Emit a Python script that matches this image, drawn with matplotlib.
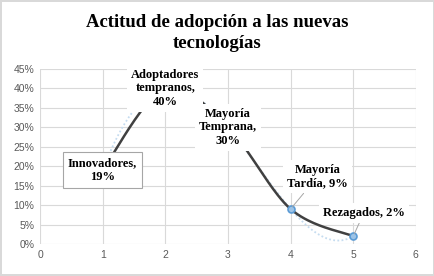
import numpy as np
import matplotlib
matplotlib.use('Agg')
import matplotlib.pyplot as plt
from matplotlib.ticker import PercentFormatter

# Datos del gráfico
etapas = ['Innovadores', 'Adoptadores\ntempranos', 'Mayoría\nTemprana', 'Mayoría\nTardía', 'Rezagados']
x = np.array([1, 2, 3, 4, 5])
y = np.array([19, 40, 30, 9, 2])
etiquetas = ['Innovadores,\n19%', 'Adoptadores\ntempranos,\n40%', 'Mayoría\nTemprana,\n30%',
             'Mayoría\nTardía, 9%', 'Rezagados, 2%']
# desplazamiento de las etiquetas (en unidades de datos)
offsets = [(0, 0), (0, 0), (0, 0), (0.43, 8.3), (0.17, 6)]


# Línea suavizada tipo Excel (Bezier con tangentes Catmull-Rom)
def linea_suave(xs, ys, n=40):
    pts = np.column_stack([xs, ys]).astype(float)
    ext = np.vstack([pts[0], pts, pts[-1]])
    out = []
    for i in range(len(pts) - 1):
        p0, p1, p2, p3 = ext[i], ext[i + 1], ext[i + 2], ext[i + 3]
        c1 = p1 + (p2 - p0) / 6
        c2 = p2 - (p3 - p1) / 6
        t = np.linspace(0, 1, n)[:, None]
        seg = (1 - t) ** 3 * p1 + 3 * (1 - t) ** 2 * t * c1 + 3 * (1 - t) * t ** 2 * c2 + t ** 3 * p2
        out.append(seg)
    out = np.vstack(out)
    return out[:, 0], out[:, 1]


fig = plt.figure(figsize=(4.35, 2.76), dpi=100)
fig.patch.set_edgecolor('#d9d9d9')
fig.patch.set_linewidth(1.5)
ax = fig.add_axes([0.092, 0.116, 0.864, 0.634])

# Línea de tendencia polinómica (orden 4)
coef = np.polyfit(x, y, 4)
xt = np.linspace(1, 5, 200)
ax.plot(xt, np.polyval(coef, xt), color='#c5dcf0', lw=1.3, ls=(0, (1, 1.3)), zorder=2)

# Serie con línea suavizada
xs, ys = linea_suave(x, y)
ax.plot(xs, ys, color='#404040', lw=1.8, zorder=3)
ax.plot(x, y, 'o', ms=5, mfc='#9dc3e6', mec='#5b9bd5', mew=1.2, zorder=4)

for i, txt in enumerate(etiquetas):
    dx, dy = offsets[i]
    bbox = dict(boxstyle='square,pad=0.3', fc='white', ec='none')
    if i == 0:
        bbox = dict(boxstyle='square,pad=0.4', fc='white', ec='#a6a6a6', lw=0.8)
    if dx or dy:
        ax.annotate(txt, xy=(x[i], y[i]), xytext=(x[i] + dx, y[i] + dy),
                    ha='center', va='center', fontsize=9, fontweight='bold',
                    family='Liberation Serif', bbox=bbox, zorder=6,
                    arrowprops=dict(arrowstyle='-', color='#a6a6a6', lw=0.7,
                                    shrinkA=0, shrinkB=2))
    else:
        ax.text(x[i], y[i], txt, ha='center', va='center', fontsize=9,
                fontweight='bold', family='Liberation Serif', bbox=bbox, zorder=6)

ax.set_xlim(0, 6)
ax.set_ylim(0, 45)
ax.set_xticks(range(0, 7))
ax.set_yticks(range(0, 46, 5))
ax.yaxis.set_major_formatter(PercentFormatter(decimals=0))
ax.grid(True, color='#d9d9d9', lw=0.8)
ax.set_axisbelow(True)
for s in ax.spines.values():
    s.set_visible(False)
ax.tick_params(length=0, labelsize=7.5, labelcolor='#595959', pad=4)
for lab in ax.get_xticklabels() + ax.get_yticklabels():
    lab.set_family('Liberation Sans')

fig.text(0.5, 0.88, 'Actitud de adopción a las nuevas\ntecnologías', ha='center', va='center',
         fontsize=13.5, fontweight='bold', family='Liberation Serif', linespacing=1.25)

fig.savefig('out.png', dpi=100)
